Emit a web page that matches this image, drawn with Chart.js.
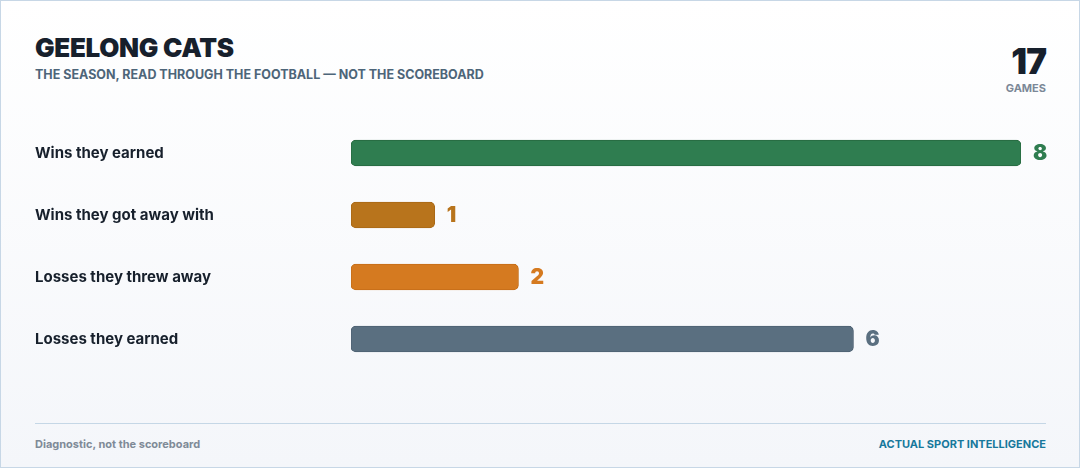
<!DOCTYPE html>
<html>
<head>
<meta charset="utf-8">
<script src="https://cdn.jsdelivr.net/npm/chart.js@4"></script>
<style>
  html, body { margin: 0; padding: 0; }
  body {
    width: 1080px; height: 468px; overflow: hidden;
    font-family: Inter, "Noto Sans", sans-serif;
  }
  .card {
    position: relative; box-sizing: border-box;
    width: 1080px; height: 468px;
    border: 1px solid #c7d7e6;
    background: linear-gradient(180deg, #ffffff 0%, #f4f6fa 100%);
  }
  .title {
    position: absolute; left: 34px; top: 31px;
    font-size: 26px; font-weight: 900; color: #17202c; letter-spacing: -0.3px;
  }
  .sub {
    position: absolute; left: 34px; top: 66px;
    font-size: 12.5px; font-weight: 700; color: #4d6579;
  }
  .count {
    position: absolute; right: 33px; top: 40px; text-align: right;
  }
  .count .n { font-size: 35px; font-weight: 900; color: #17202c; line-height: 40px; letter-spacing: -1px; }
  .count .l { font-size: 11px; font-weight: 700; color: #7b8897; margin-top: 0px; }
  .chartbox { position: absolute; left: 34px; top: 112px; width: 1012px; height: 266px; }
  .rule { position: absolute; left: 34px; right: 33px; top: 422px; height: 1px; background: #c5d7e6; }
  .foot-l {
    position: absolute; left: 34px; top: 436px;
    font-size: 11px; font-weight: 700; color: #7f8a97;
  }
  .foot-r {
    position: absolute; right: 33px; top: 436px;
    font-size: 11px; font-weight: 700; color: #17789c;
  }
</style>
</head>
<body>
<div class="card">
  <div class="title">GEELONG CATS</div>
  <div class="sub">THE SEASON, READ THROUGH THE FOOTBALL — NOT THE SCOREBOARD</div>
  <div class="count"><div class="n">17</div><div class="l">GAMES</div></div>
  <div class="chartbox"><canvas id="chart"></canvas></div>
  <div class="rule"></div>
  <div class="foot-l">Diagnostic, not the scoreboard</div>
  <div class="foot-r">ACTUAL SPORT INTELLIGENCE</div>
</div>
<script>
const categories = ["Wins they earned", "Wins they got away with", "Losses they threw away", "Losses they earned"];
const games = [8, 1, 2, 6];
const barColors = ["#2f7d50", "#b8741c", "#d57a20", "#5a6f80"];
const edgeColors = ["#27693f", "#a86816", "#c46e18", "#4e6172"];

// write the count next to the end of each bar
const valueLabels = {
  id: "valueLabels",
  afterDatasetsDraw(chart) {
    const ctx = chart.ctx;
    const meta = chart.getDatasetMeta(0);
    ctx.save();
    ctx.font = "900 21px Inter, sans-serif";
    ctx.textBaseline = "middle";
    ctx.textAlign = "left";
    meta.data.forEach((bar, i) => {
      ctx.fillStyle = barColors[i];
      ctx.fillText(String(games[i]), bar.x + 12, bar.y + 1);
    });
    ctx.restore();
  }
};

new Chart(document.getElementById("chart"), {
  type: "bar",
  data: {
    labels: categories,
    datasets: [{
      data: games,
      backgroundColor: barColors,
      borderColor: edgeColors,
      borderWidth: 1,
      borderRadius: 5,
      borderSkipped: false,
      barThickness: 26
    }]
  },
  options: {
    indexAxis: "y",
    responsive: true,
    maintainAspectRatio: false,
    animation: false,
    layout: { padding: { left: 0, right: 26, top: 0, bottom: 0 } },
    plugins: { legend: { display: false }, tooltip: { enabled: false } },
    scales: {
      x: { display: false, min: 0, max: 8 },
      y: {
        grid: { display: false },
        border: { display: false },
        afterFit(scale) { scale.width = 316; },
        ticks: {
          crossAlign: "far",
          padding: 0,
          color: "#17202c",
          font: { family: "Inter", size: 15, weight: "700" }
        }
      }
    }
  },
  plugins: [valueLabels]
});
</script>
</body>
</html>
